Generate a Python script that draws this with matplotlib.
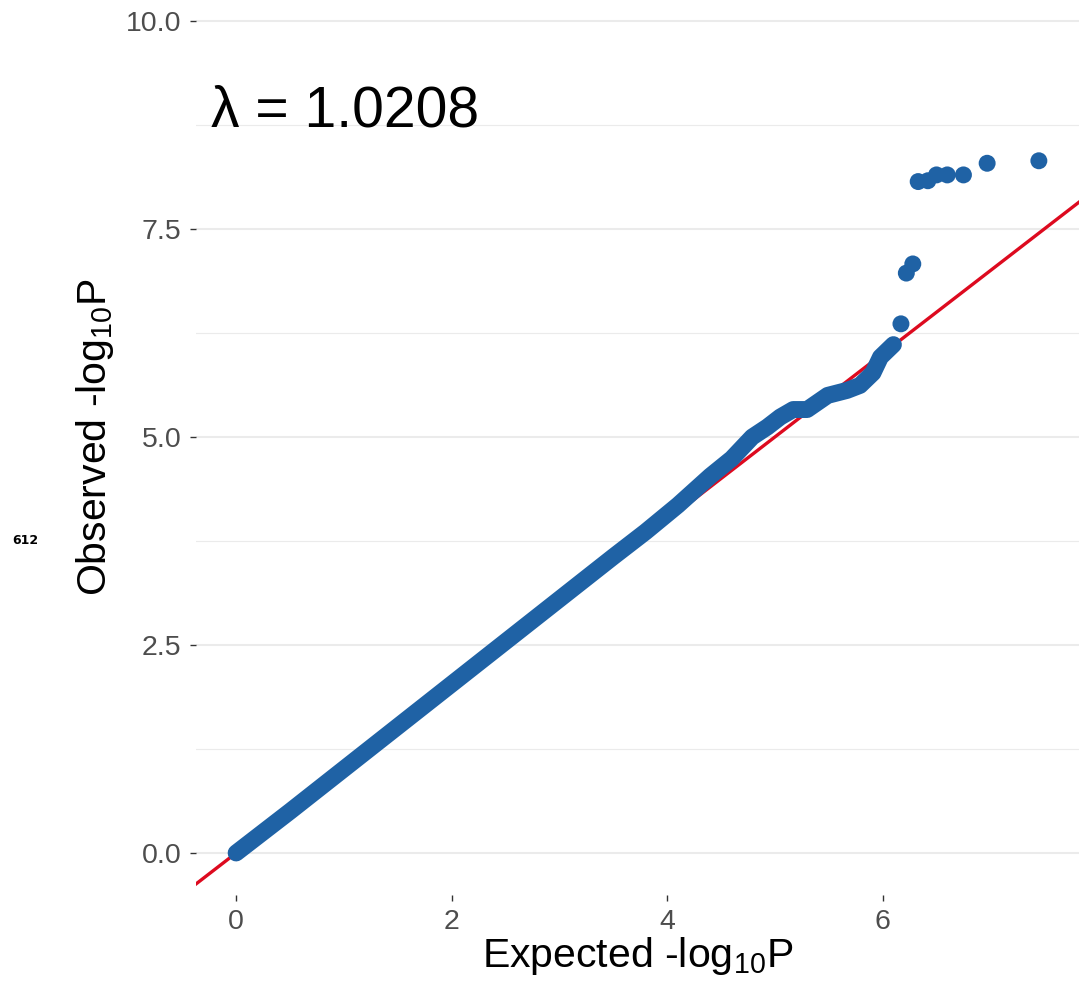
import matplotlib.pyplot as plt

plt.rcParams['font.family'] = ['Liberation Sans', 'DejaVu Sans']
plt.rcParams['mathtext.fontset'] = 'custom'
plt.rcParams['mathtext.rm'] = 'Liberation Sans'
plt.rcParams['mathtext.it'] = 'Liberation Sans:italic'

# main body of the QQ cloud (expected vs observed -log10 P)
band_exp = [0.0, 0.5, 1.0, 1.5, 2.0, 2.5, 3.0, 3.5, 3.8, 4.1, 4.4, 4.6, 4.79,
            4.93, 5.05, 5.17, 5.30, 5.49, 5.67, 5.79, 5.91, 5.98, 6.10]
band_obs = [0.0, 0.5, 1.01, 1.52, 2.03, 2.54, 3.05, 3.56, 3.86, 4.18, 4.53, 4.74, 5.00,
            5.12, 5.24, 5.33, 5.33, 5.50, 5.56, 5.62, 5.77, 5.96, 6.11]

# top hits that leave the band
top_exp = [6.17, 6.22, 6.28, 6.33, 6.42, 6.50, 6.60, 6.75, 6.97, 7.45]
top_obs = [6.36, 6.97, 7.08, 8.07, 8.08, 8.15, 8.15, 8.15, 8.29, 8.32]

lam = 1.0208
yticks = [0.0, 2.5, 5.0, 7.5, 10.0]
yminor = [1.25, 3.75, 6.25, 8.75]
xticks = [0, 2, 4, 6]

blue = '#1F62A5'
red = '#DD0A1F'

fig = plt.figure(figsize=(10.79, 9.81), dpi=100)
ax = fig.add_axes([196/1079, 0.0881, 1 - 196/1079, 0.9329])

xmax = max(top_exp)
ax.set_xlim(-0.05*xmax, 1.05*xmax)
ax.set_ylim(-0.5, 10.5)

# grid: horizontal only
for v in yticks:
    ax.axhline(v, color='#EBEBEB', lw=1.5, zorder=0)
for v in yminor:
    ax.axhline(v, color='#EBEBEB', lw=0.8, zorder=0)

ax.axline((0, 0), slope=1, color=red, lw=2.4, zorder=1)

ms = 12.2
ax.plot(band_exp, band_obs, '-', color=blue, lw=ms, solid_capstyle='round',
        solid_joinstyle='round', zorder=2)
ax.scatter(top_exp, top_obs, s=ms**2, color=blue, edgecolors='none', zorder=3)

for s in ax.spines.values():
    s.set_visible(False)

ax.set_yticks(yticks)
ax.set_yticklabels(['%.1f' % v for v in yticks])
ax.set_xticks(xticks)
ax.tick_params(axis='both', labelsize=20.5, labelcolor='#4D4D4D', color='#333333',
               length=4.5, width=1.0)
ax.tick_params(axis='y', pad=6)
ax.tick_params(axis='x', pad=6)

ax.set_xlabel(r'Expected -log$_{10}$P', fontsize=29.5, labelpad=0)
ax.set_ylabel(r'Observed -log$_{10}$P', fontsize=29.5, labelpad=7)

ax.text(-0.23, 8.73, '\u03bb = %.4f' % lam, fontsize=41, ha='left', va='baseline')

fig.text(12/1079, 1 - 540/981, '612', fontsize=9, fontweight='bold',
         family='DejaVu Sans', va='center', ha='left')

fig.savefig('out.png', dpi=100)
